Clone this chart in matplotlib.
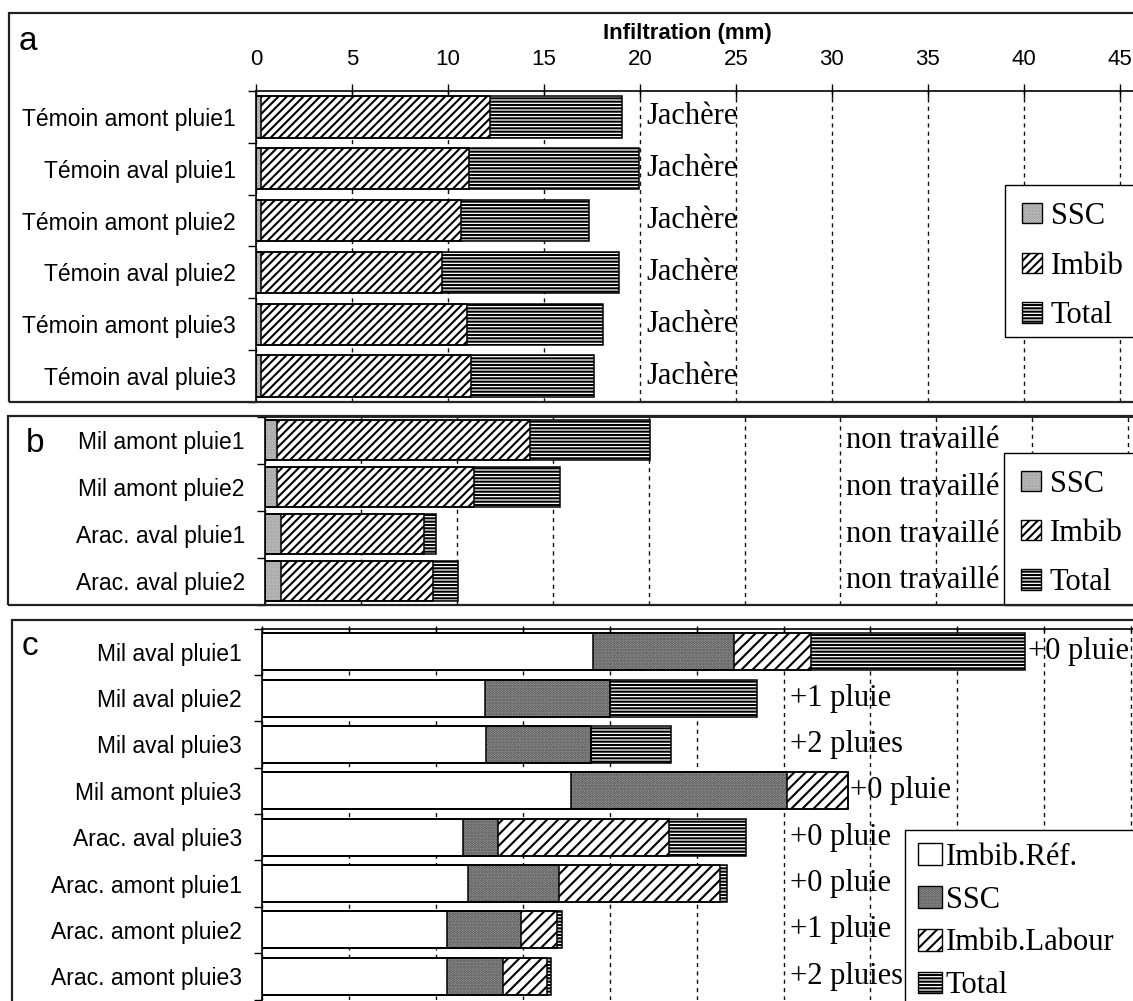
import matplotlib
matplotlib.use('Agg')
import matplotlib.pyplot as plt
from matplotlib.patches import Patch, Rectangle
import numpy as np

plt.rcParams['hatch.linewidth'] = 1.5

W, H = 1133, 1001

# ---------------- data ----------------
# Panel a (Jachère)
a_labels = ["Témoin amont pluie1", "Témoin aval pluie1", "Témoin amont pluie2",
            "Témoin aval pluie2", "Témoin amont pluie3", "Témoin aval pluie3"]
a_ssc = [0.25, 0.25, 0.25, 0.25, 0.25, 0.25]
a_imbib = [12.2, 11.1, 10.7, 9.7, 11.0, 11.2]
a_total = [19.05, 19.95, 17.35, 18.9, 18.1, 17.6]
a_note = "Jachère"

# Panel b (non travaillé)
b_labels = ["Mil amont pluie1", "Mil amont pluie2", "Arac. aval pluie1", "Arac. aval pluie2"]
b_ssc = [0.6, 0.6, 0.85, 0.85]
b_imbib = [13.8, 10.9, 8.3, 8.75]
b_total = [20.05, 15.4, 8.9, 10.05]
b_note = "non travaillé"

# Panel c (labour)
c_labels = ["Mil aval pluie1", "Mil aval pluie2", "Mil aval pluie3", "Mil amont pluie3",
            "Arac. aval pluie3", "Arac. amont pluie1", "Arac. amont pluie2", "Arac. amont pluie3"]
c_ref = [19.05, 12.8, 12.9, 17.75, 11.55, 11.83, 10.63, 10.63]
c_ssc = [27.15, 20.0, 18.9, 30.2, 13.6, 17.1, 14.9, 13.85]
c_labour = [31.6, 20.0, 18.9, 33.7, 23.4, 26.35, 16.95, 16.38]
c_total = [43.9, 28.45, 23.55, 33.7, 27.85, 26.77, 17.24, 16.63]
c_notes = ["+0 pluie", "+1 pluie", "+2 pluies", "+0 pluie",
           "+0 pluie", "+0 pluie", "+1 pluie", "+2 pluies"]

x_ticks_ab = list(range(0, 50, 5))
x_ticks_c = list(range(0, 55, 5))

# ---------------- styles ----------------
SANS = ['Liberation Sans', 'DejaVu Sans']
SERIF = ['Liberation Serif', 'DejaVu Serif']

STY = {
    'total': dict(face='white', hatch='-----', hcol='black'),
    'imbib': dict(face='white', hatch='////', hcol='black'),
    'labour': dict(face='white', hatch='///', hcol='black'),
    'ssc_light': dict(face='#dadada', hatch='......', hcol='#8a8a8a'),
    'ssc_dark': dict(face='#a9a9a9', hatch='......', hcol='#454545'),
    'ref': dict(face='white', hatch=None, hcol='black'),
}

fig = plt.figure(figsize=(W / 100, H / 100), dpi=100)


def fbox(l, t, r, b):
    return [l / W, 1 - b / H, (r - l) / W, (b - t) / H]


def draw_series(ax, vals, style, height):
    s = STY[style]
    y = np.arange(len(vals))
    ax.barh(y, vals, height=height, color=s['face'], hatch=s['hatch'],
            edgecolor=s['hcol'], linewidth=0, zorder=2)
    ax.barh(y, vals, height=height, facecolor='none', edgecolor='black',
            linewidth=1.1, zorder=3)


def legend_handle(style):
    s = STY[style]
    p1 = Patch(facecolor=s['face'], hatch=s['hatch'], edgecolor=s['hcol'], linewidth=0)
    p2 = Patch(facecolor='none', edgecolor='black', linewidth=1.0)
    return (p1, p2)


def legend_box(ax, l, t, r, b):
    ax.add_patch(Rectangle((l / W, 1 - b / H), (r - l) / W, (b - t) / H,
                           transform=fig.transFigure, facecolor='white',
                           edgecolor='black', linewidth=1.0, clip_on=False, zorder=4))


def setup_axis(ax, labels, xmax, ticks):
    n = len(labels)
    ax.set_xlim(0, xmax)
    ax.set_ylim(n - 0.5, -0.5)
    ax.set_yticks(np.arange(n))
    ax.set_yticklabels(labels, family=SANS, fontsize=16.5)
    ax.set_yticks(np.arange(n + 1) - 0.5, minor=True)
    ax.tick_params(axis='y', which='major', length=0, pad=14.5)
    ax.tick_params(axis='y', which='minor', direction='out', length=6, width=1)
    ax.set_xticks(ticks)
    ax.grid(axis='x', which='major', linestyle=(0, (3, 3)), color='#111111', linewidth=1.0, zorder=0)
    ax.set_axisbelow(True)
    ax.spines['right'].set_visible(False)
    for sp in ax.spines.values():
        sp.set_linewidth(1.2)


LEG = dict(loc='upper left', bbox_transform=fig.transFigure, borderaxespad=0,
           prop={'family': SERIF, 'size': 22}, frameon=False)

# ---------------- panel frames ----------------
for (l, t, r, b) in [(9, 13, 1145, 402), (8, 416, 1145, 605), (12, 620, 1145, 1010)]:
    fig.patches.append(Rectangle((l / W, 1 - b / H), (r - l) / W, (b - t) / H,
                                 transform=fig.transFigure, fill=False,
                                 edgecolor='#222222', linewidth=1.6, clip_on=False))

# ---------------- panel a ----------------
axa = fig.add_axes(fbox(256, 91, 1133, 402))
setup_axis(axa, a_labels, 45.7, x_ticks_ab)
draw_series(axa, a_total, 'total', 0.8)
draw_series(axa, a_imbib, 'imbib', 0.8)
draw_series(axa, a_ssc, 'ssc_light', 0.8)
axa.xaxis.tick_top()
axa.set_xticklabels([str(t) for t in x_ticks_ab], family=SANS, fontsize=16)
axa.tick_params(axis='x', which='major', direction='inout', length=10, width=1, pad=10)
for i in range(len(a_labels)):
    axa.text(20.35, i, a_note, family=SERIF, fontsize=22, ha='left', va='center')
fig.text(687 / W, 1 - 33 / H, "Infiltration (mm)", family=SANS, fontsize=16,
         fontweight='bold', ha='center', va='center')
fig.text(19 / W, 1 - 50 / H, "a", family=SANS, fontsize=24, ha='left', va='baseline')
legend_box(axa, 1005, 185, 1150, 337)
axa.legend([legend_handle('ssc_light'), legend_handle('imbib'), legend_handle('total')],
           ["SSC", "Imbib", "Total"],
           bbox_to_anchor=(1005 / W, 1 - 185 / H), handlelength=0.65,
           handleheight=0.65, handletextpad=0.3, labelspacing=0.68, borderpad=0.55, **LEG)

# ---------------- panel b ----------------
axb = fig.add_axes(fbox(265, 416.5, 1133, 604.5))
setup_axis(axb, b_labels, 45.25, x_ticks_ab)
draw_series(axb, b_total, 'total', 0.84)
draw_series(axb, b_imbib, 'imbib', 0.84)
draw_series(axb, b_ssc, 'ssc_light', 0.84)
axb.set_xticklabels([])
axb.tick_params(axis='x', which='major', length=0)
for i in range(len(b_labels)):
    axb.text(30.3, i, b_note, family=SERIF, fontsize=22, ha='left', va='center')
fig.text(26 / W, 1 - 452 / H, "b", family=SANS, fontsize=24, ha='left', va='baseline')
legend_box(axb, 1004, 453, 1150, 605)
axb.legend([legend_handle('ssc_light'), legend_handle('imbib'), legend_handle('total')],
           ["SSC", "Imbib", "Total"],
           bbox_to_anchor=(1004 / W, 1 - 453 / H), handlelength=0.65,
           handleheight=0.65, handletextpad=0.3, labelspacing=0.66, borderpad=0.55, **LEG)

# ---------------- panel c ----------------
axc = fig.add_axes(fbox(262, 628.5, 1133, 999.5))
setup_axis(axc, c_labels, 50.1, x_ticks_c)
draw_series(axc, c_total, 'total', 0.8)
draw_series(axc, c_labour, 'labour', 0.8)
draw_series(axc, c_ssc, 'ssc_dark', 0.8)
draw_series(axc, c_ref, 'ref', 0.8)
axc.xaxis.tick_top()
axc.set_xticklabels([])
axc.tick_params(axis='x', which='major', direction='inout', length=5, width=1)
axc.spines['bottom'].set_visible(False)
for i, note in enumerate(c_notes):
    axc.text(max(c_total[i] + 0.15, 30.35), i, note, family=SERIF, fontsize=22,
             ha='left', va='center')
fig.text(22 / W, 1 - 655 / H, "c", family=SANS, fontsize=24, ha='left', va='baseline')
legend_box(axc, 905, 830, 1150, 1010)
axc.legend([legend_handle('ref'), legend_handle('ssc_dark'), legend_handle('labour'),
            legend_handle('total')],
           ["Imbib.Réf.", "SSC", "Imbib.Labour", "Total"],
           bbox_to_anchor=(905 / W, 1 - 830 / H), handlelength=0.8,
           handleheight=0.72, handletextpad=0.12, labelspacing=0.45, borderpad=0.42, **LEG)

fig.savefig('out.png', dpi=100)
